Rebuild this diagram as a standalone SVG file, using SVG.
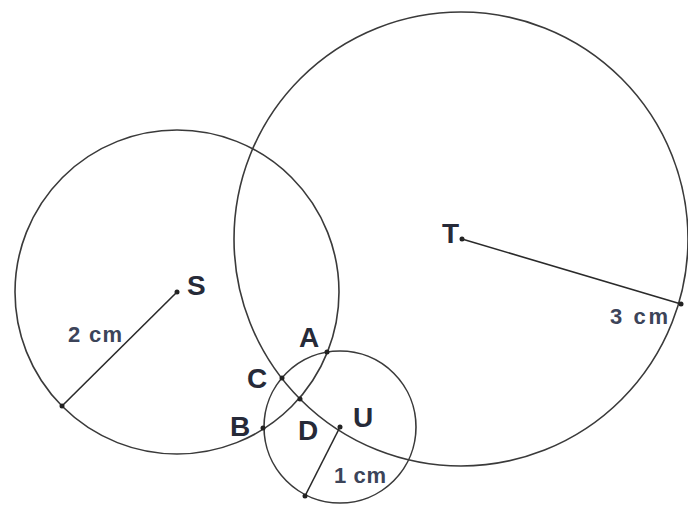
<svg xmlns="http://www.w3.org/2000/svg" width="688" height="509" viewBox="0 0 688 509">
<style>
.c{fill:none;stroke:#3a3a3a;stroke-width:1.6}
.r{stroke:#2a2a2a;stroke-width:1.6}
.d{fill:#222}
.lb{font-family:"Liberation Sans",Arial,sans-serif;font-weight:bold;font-size:28px;fill:#262a38}
.cm{font-family:"Liberation Sans",Arial,sans-serif;font-weight:bold;font-size:22px;fill:#3c4459}
</style>
<rect width="688" height="509" fill="#fff"/>
<g id="circleS">
<circle class="c" cx="177" cy="292" r="162"/>
<circle class="d" cx="177" cy="292" r="2.5"/>
<text class="lb" x="187" y="295">S</text>
</g>
<g id="circleT">
<circle class="c" cx="461" cy="239" r="227"/>
<circle class="d" cx="462" cy="239" r="2.5"/>
<text class="lb" x="442" y="243">T</text>
</g>
<g id="circleU">
<circle class="c" cx="340" cy="427" r="76"/>
<circle class="d" cx="340" cy="427" r="2.5"/>
<text class="lb" x="353" y="427">U</text>
</g>
<g id="connectors">
<line class="r" x1="177" y1="292" x2="62" y2="406"/>
<line class="r" x1="462" y1="239" x2="681" y2="304"/>
<line class="r" x1="340" y1="427" x2="305" y2="496"/>
<circle class="d" cx="62" cy="406" r="2.5"/>
<circle class="d" cx="681" cy="304" r="2.5"/>
<circle class="d" cx="305" cy="496" r="2.5"/>
</g>
<g id="pointA"><circle class="d" cx="327" cy="352" r="2.5"/><text class="lb" x="299" y="347">A</text></g>
<g id="pointC"><circle class="d" cx="282" cy="378" r="2.5"/><text class="lb" x="247" y="388">C</text></g>
<g id="pointD"><circle class="d" cx="300" cy="399" r="2.5"/><text class="lb" x="298" y="440">D</text></g>
<g id="pointB"><circle class="d" cx="263" cy="428" r="2.5"/><text class="lb" x="230" y="436">B</text></g>
<g id="labels">
<text class="cm" x="68" y="342" textLength="54" lengthAdjust="spacing">2 cm</text>
<text class="cm" x="610" y="324" textLength="58" lengthAdjust="spacing">3 cm</text>
<text class="cm" x="334" y="483" textLength="52" lengthAdjust="spacing">1 cm</text>
</g>
</svg>
